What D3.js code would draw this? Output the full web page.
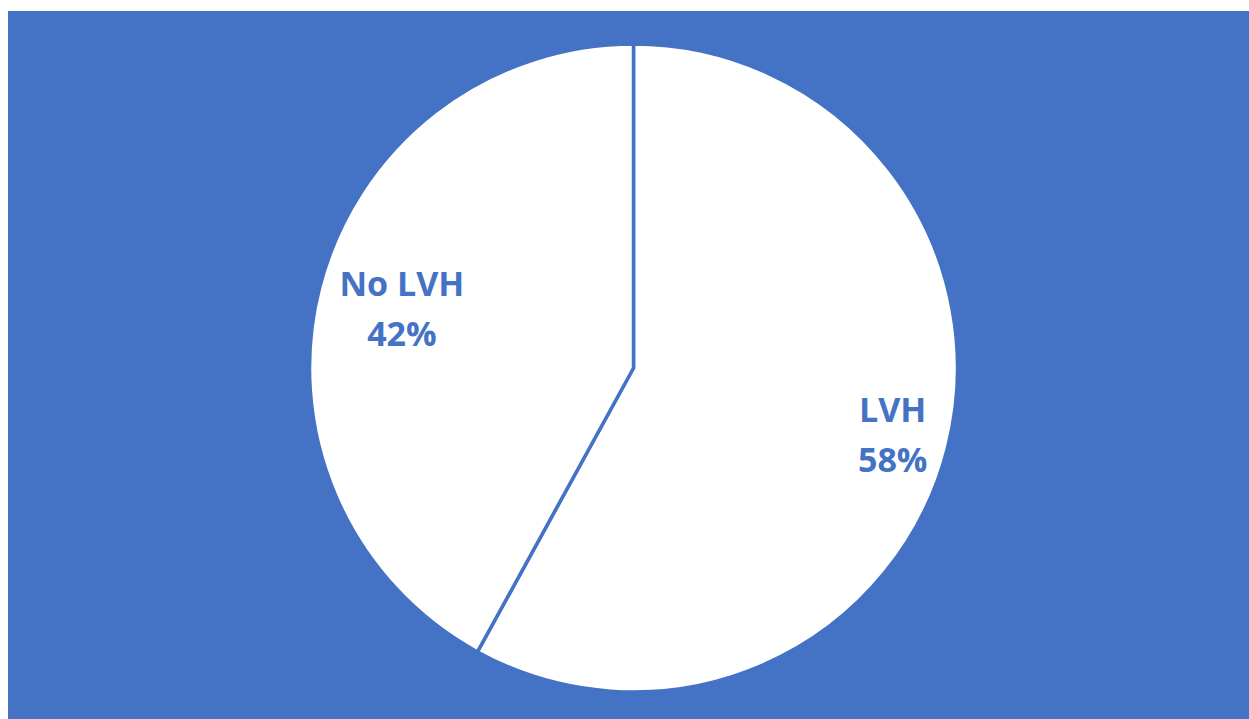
<!DOCTYPE html>
<html>
<head>
<meta charset="utf-8">
<script src="https://cdn.jsdelivr.net/npm/d3@7"></script>
<style>
  html, body { margin: 0; padding: 0; background: #ffffff; }
  svg { display: block; }
</style>
</head>
<body>
<svg id="chart" width="1249" height="719"></svg>
<script>
// Share of patients with left ventricular hypertrophy
const categories = ["LVH", "No LVH"];
const shares = [58, 42];

const W = 1249, H = 719;
const blue = "#4472C4";
const cx = 633.5, cy = 368, R = 324;
// label distance from centre, as a fraction of the radius, per slice
const labelRadius = [0.826, 0.738];

const svg = d3.select("#chart");

// plot background
svg.append("rect")
  .attr("x", 8).attr("y", 11)
  .attr("width", W - 8).attr("height", H - 11)
  .attr("fill", blue);

const pie = d3.pie().sort(null).value(d => d)(shares);
const arc = d3.arc().innerRadius(0).outerRadius(R);

const g = svg.append("g").attr("transform", `translate(${cx},${cy})`);

g.selectAll("path.slice")
  .data(pie)
  .join("path")
  .attr("class", "slice")
  .attr("d", arc)
  .attr("fill", "#ffffff")
  .attr("stroke", blue)
  .attr("stroke-width", 3.5)
  .attr("stroke-linejoin", "round");

const labels = g.selectAll("text.lbl")
  .data(pie)
  .join("text")
  .attr("class", "lbl")
  .attr("transform", (d, i) => {
    const r = R * labelRadius[i];
    const la = d3.arc().innerRadius(r).outerRadius(r);
    const [x, y] = la.centroid(d);
    return `translate(${x},${y})`;
  })
  .attr("text-anchor", "middle")
  .attr("font-family", "'Open Sans', sans-serif")
  .attr("font-weight", "bold")
  .attr("font-size", 34)
  .attr("fill", blue);

labels.append("tspan")
  .attr("x", 0).attr("dy", "-0.38em")
  .text((d, i) => categories[i]);
labels.append("tspan")
  .attr("x", 0).attr("dy", "1.48em")
  .text(d => d.data + "%");
</script>
</body>
</html>
